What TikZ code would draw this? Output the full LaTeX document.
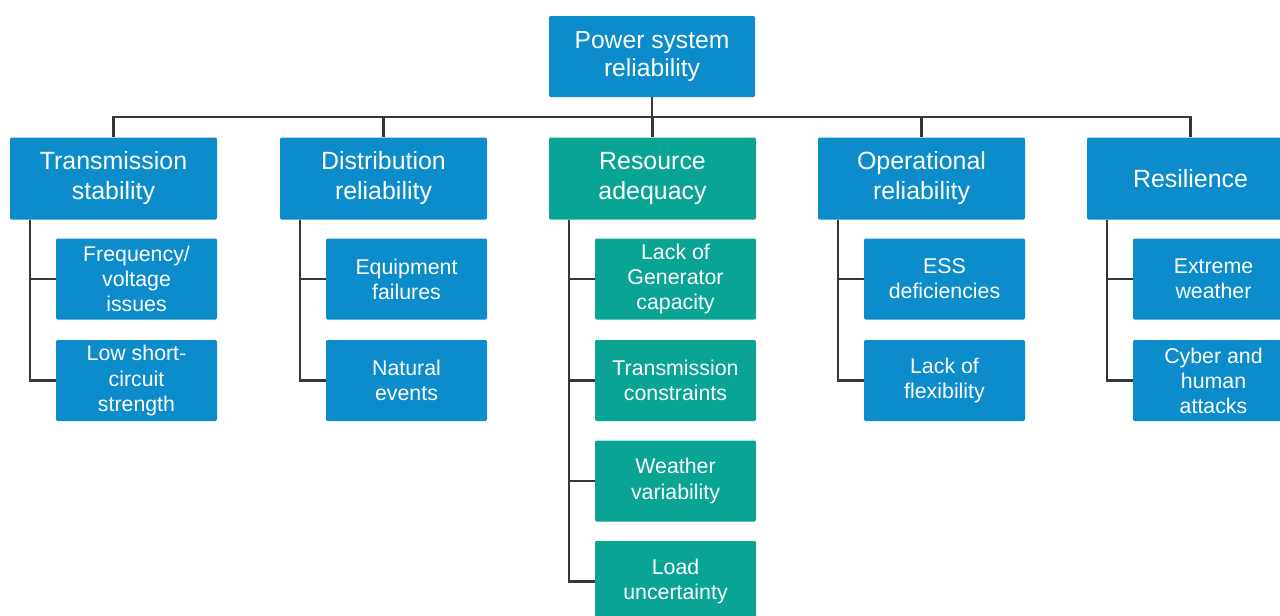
\documentclass[tikz,border=0pt]{standalone}
\usepackage{fontspec}
\setmainfont{Liberation Sans}
\usetikzlibrary{calc}
\definecolor{boxblue}{RGB}{12,140,202}
\definecolor{boxteal}{RGB}{10,164,148}
\definecolor{linegray}{RGB}{55,55,55}
\tikzset{
  base/.style={draw=none, text=white, align=center, inner sep=2pt, rounded corners=1pt},
  rootbox/.style={base, fill=boxblue, minimum width=206*0.75pt, minimum height=81*0.75pt,
     font=\fontsize{18.5}{21.5}\selectfont},
  topbox/.style={base, minimum width=207*0.75pt, minimum height=82*0.75pt,
     font=\fontsize{18.7}{22.5}\selectfont},
  subbox/.style={base, minimum width=161*0.75pt, minimum height=81*0.75pt,
     font=\fontsize{16}{18.8}\selectfont},
  bl/.style={fill=boxblue},
  tl/.style={fill=boxteal},
  conn/.style={draw=linegray, line width=1.6pt}
}
\begin{document}
\begin{tikzpicture}[x=0.75pt,y=-0.75pt]
\useasboundingbox (0,0) rectangle (1280,615);
\clip (0,0) rectangle (1280,615);
\fill[white] (0,0) rectangle (1280,615);

\node[rootbox] (root) at (652,56.5) {Power system\\reliability};

\node[topbox,bl] (t1) at (113.5,178.5) {Transmission\\stability};
\node[topbox,bl] (t2) at (383.5,178.5) {Distribution\\reliability};
\node[topbox,tl] (t3) at (652.5,178.5) {Resource\\adequacy};
\node[topbox,bl] (t4) at (921.5,178.5) {Operational\\reliability};
\node[topbox,bl] (t5) at (1190.5,178.5) {Resilience};

\coordinate (bus) at (0,117);
\foreach \t in {t1,t2,t3,t4,t5}{
  \draw[conn] (root.south) -- (root.south |- bus) -| (\t.north);
}

% children
\node[subbox,bl] (c11) at (136.5,279) {Frequency/\\voltage\\issues};
\node[subbox,bl] (c12) at (136.5,380.5) {Low short-\\circuit\\strength};

\node[subbox,bl] (c21) at (406.5,279) {Equipment\\failures};
\node[subbox,bl] (c22) at (406.5,380.5) {Natural\\events};

\node[subbox,tl] (c31) at (675.5,279) {Lack of\\Generator\\capacity};
\node[subbox,tl] (c32) at (675.5,380.5) {Transmission\\constraints};
\node[subbox,tl] (c33) at (675.5,481) {Weather\\variability};
\node[subbox,tl] (c34) at (675.5,581.5) {Load\\uncertainty};

\node[subbox,bl] (c41) at (944.5,279) {ESS\\deficiencies};
\node[subbox,bl] (c42) at (944.5,380.5) {Lack of\\flexibility};

\node[subbox,bl] (c51) at (1213.5,279) {Extreme\\weather};
\node[subbox,bl] (c52) at (1213.5,380.5) {Cyber and\\human\\attacks};

\coordinate (s1) at ($(t1.south west)+(20,0)$);
\coordinate (s2) at ($(t2.south west)+(20,0)$);
\coordinate (s3) at ($(t3.south west)+(20,0)$);
\coordinate (s4) at ($(t4.south west)+(20,0)$);
\coordinate (s5) at ($(t5.south west)+(20,0)$);

\draw[conn] (s1) |- (c11.west);
\draw[conn] (s1) |- (c12.west);
\draw[conn] (s2) |- (c21.west);
\draw[conn] (s2) |- (c22.west);
\draw[conn] (s3) |- (c31.west);
\draw[conn] (s3) |- (c32.west);
\draw[conn] (s3) |- (c33.west);
\draw[conn] (s3) |- (c34.west);
\draw[conn] (s4) |- (c41.west);
\draw[conn] (s4) |- (c42.west);
\draw[conn] (s5) |- (c51.west);
\draw[conn] (s5) |- (c52.west);
\end{tikzpicture}
\end{document}
